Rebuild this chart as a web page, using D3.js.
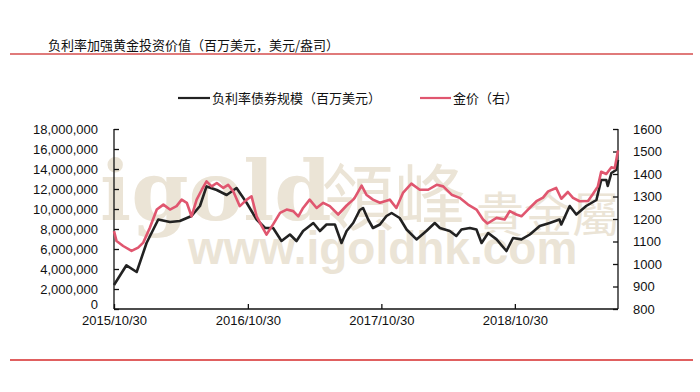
<!DOCTYPE html>
<html lang="zh">
<head>
<meta charset="UTF-8" />
<title>负利率加强黄金投资价值</title>
<script src="https://d3js.org/d3.v7.min.js"></script>
<style>
  body { margin: 0; background: #fff; font-family: "Liberation Sans", Arial, sans-serif; }
  .tick text { font-size: 13px; fill: #111; font-family: "Liberation Sans", Arial, sans-serif; }
  .cn { font-family: "Noto Sans CJK SC", "Noto Sans", sans-serif; fill: #111; }
</style>
</head>
<body>
<svg width="700" height="392"></svg>
<script>
// 负利率债券规模（百万美元）
const bondDates = ["2015-10-30","2015-12-03","2015-12-31","2016-01-27","2016-02-28","2016-03-31","2016-04-27","2016-05-29",
  "2016-06-21","2016-07-09","2016-08-06","2016-09-02","2016-09-29","2016-10-27","2016-11-23","2016-12-16","2017-01-07",
  "2017-01-30","2017-02-22","2017-03-12","2017-03-30","2017-04-27","2017-05-15","2017-06-02","2017-06-25","2017-07-13",
  "2017-07-27","2017-08-14","2017-09-01","2017-09-10","2017-09-24","2017-10-07","2017-10-26","2017-11-13","2017-11-27",
  "2017-12-19","2018-01-07","2018-02-03","2018-03-02","2018-03-25","2018-04-08","2018-05-05","2018-05-23","2018-06-06",
  "2018-06-29","2018-07-17","2018-07-31","2018-08-18","2018-09-10","2018-10-07","2018-10-25","2018-11-17","2018-12-10",
  "2019-01-06","2019-02-02","2019-03-01","2019-03-06","2019-03-29","2019-04-16","2019-05-13","2019-06-10","2019-06-23",
  "2019-07-07","2019-07-11","2019-07-21","2019-08-03","2019-08-08"];
const bondSize = [2400000,4370000,3700000,6600000,8950000,8700000,8800000,9300000,
  10300000,12260000,11900000,11400000,12100000,10600000,8950000,8100000,8100000,
  6800000,7450000,6800000,7800000,8600000,7800000,8450000,8450000,6600000,
  7800000,8600000,9900000,10100000,8950000,8100000,8450000,9300000,9600000,
  9100000,7950000,6960000,7800000,8600000,8100000,7800000,7300000,7950000,
  8100000,7950000,6600000,7600000,6960000,5800000,7100000,6960000,7450000,
  8300000,8600000,8950000,8450000,10300000,9450000,10300000,10900000,12900000,
  12900000,12300000,13600000,13900000,14900000];

// 金价（右）
const goldDates = ["2015-10-30","2015-11-06","2015-11-24","2015-12-17","2016-01-04","2016-01-18","2016-02-05","2016-02-24",
  "2016-03-13","2016-03-31","2016-04-18","2016-05-02","2016-05-16","2016-05-29","2016-06-12","2016-06-26","2016-07-09",
  "2016-07-23","2016-08-06","2016-08-24","2016-09-06","2016-09-20","2016-10-08","2016-10-27","2016-11-09","2016-11-23",
  "2016-12-07","2016-12-20","2017-01-07","2017-01-26","2017-02-13","2017-03-03","2017-03-17","2017-03-30","2017-04-17",
  "2017-05-06","2017-05-24","2017-06-11","2017-07-04","2017-07-27","2017-08-14","2017-08-18","2017-09-06","2017-09-19",
  "2017-10-07","2017-10-26","2017-11-22","2017-12-10","2017-12-28","2018-01-20","2018-02-12","2018-03-07","2018-03-30",
  "2018-04-17","2018-05-10","2018-06-01","2018-06-24","2018-07-17","2018-08-04","2018-08-16","2018-09-10","2018-10-02",
  "2018-10-16","2018-11-03","2018-11-17","2018-12-05","2018-12-28","2019-01-15","2019-01-29","2019-02-20","2019-03-06",
  "2019-03-24","2019-04-07","2019-04-25","2019-05-18","2019-05-31","2019-06-14","2019-06-23","2019-07-07","2019-07-21",
  "2019-07-30","2019-08-08"];
const goldPrice = [1146,1102,1080,1058,1073,1095,1161,1242,
  1264,1242,1257,1286,1272,1212,1286,1330,1367,
  1345,1360,1338,1352,1323,1257,1286,1301,1212,
  1168,1131,1176,1227,1242,1235,1212,1249,1286,
  1249,1272,1257,1220,1260,1286,1294,1348,1308,
  1286,1272,1286,1249,1316,1357,1330,1330,1352,
  1345,1308,1294,1264,1242,1198,1180,1205,1198,
  1235,1220,1212,1242,1279,1295,1323,1338,1290,
  1320,1294,1279,1280,1310,1345,1410,1400,1430,
  1425,1505];

const dateTicks = ["2015-10-30","2016-10-30","2017-10-30","2018-10-30"];
const leftTicks = d3.range(0, 18000001, 2000000);
const rightTicks = d3.range(800, 1601, 100);

const parse = d3.timeParse("%Y-%m-%d");
const svg = d3.select("svg");
const plotL = 114, plotR = 618, plotT = 129, plotB = 309;

const x = d3.scaleTime().domain([parse("2015-10-30"), parse("2019-08-08")]).range([plotL, plotR]);
const yL = d3.scaleLinear().domain([0, 18000000]).range([plotB, plotT]);
const yR = d3.scaleLinear().domain([800, 1600]).range([plotB, plotT]);

// 标题和分隔线
svg.append("text").attr("class", "cn").attr("x", 48).attr("y", 50)
  .attr("font-size", 13).text("负利率加强黄金投资价值（百万美元，美元/盎司）");
svg.append("line").attr("x1", 10).attr("x2", 693).attr("y1", 54).attr("y2", 54)
  .attr("stroke", "#e07a7a").attr("stroke-width", 2);
svg.append("line").attr("x1", 10).attr("x2", 693).attr("y1", 360).attr("y2", 360)
  .attr("stroke", "#e06060").attr("stroke-width", 2);

// 水印
const wm = svg.append("g").attr("fill", "#ebe4d6");
wm.append("text").attr("x", 100).attr("y", 220).attr("font-size", 82).attr("font-weight", "bold")
  .attr("font-family", "'DejaVu Serif', serif").text("igold");
wm.append("text").attr("x", 322).attr("y", 224).attr("font-size", 72)
  .attr("font-family", "'Noto Sans CJK TC', sans-serif").text("領峰");
wm.append("text").attr("x", 476).attr("y", 232).attr("font-size", 48)
  .attr("font-family", "'Noto Sans CJK TC', sans-serif").text("貴金屬");
wm.append("text").attr("x", 188).attr("y", 264).attr("font-size", 46).attr("font-weight", "bold")
  .attr("font-family", "'Liberation Sans', Arial, sans-serif").text("www.igoldhk.com");

// 坐标轴
const gx = svg.append("g").attr("transform", `translate(0,${plotB})`)
  .call(d3.axisBottom(x).tickValues(dateTicks.map(parse)).tickFormat(d3.timeFormat("%Y/%m/%d"))
    .tickSize(-5).tickPadding(7));
const gl = svg.append("g").attr("transform", `translate(${plotL},0)`)
  .call(d3.axisLeft(yL).tickValues(leftTicks).tickFormat(d3.format(",")).tickSize(-5).tickPadding(16));
const gr = svg.append("g").attr("transform", `translate(${plotR},0)`)
  .call(d3.axisRight(yR).tickValues(rightTicks).tickFormat(d3.format("d")).tickSize(-5).tickPadding(15));
[gx, gl, gr].forEach(g => {
  g.selectAll(".domain, .tick line").attr("stroke", "#111").attr("stroke-width", 1.3);
  g.selectAll(".tick text").attr("fill", "#111");
});
gx.select(".domain").attr("d", `M${plotL},0H${plotR}`);
gl.select(".domain").attr("d", `M0,${plotT}V${plotB}`);
gr.select(".domain").attr("d", `M0,${plotT}V${plotB}`);
// "0" 标签略上移，避开日期标签
gl.selectAll(".tick text").filter(d => d === 0).attr("dy", "-0.05em");

// 折线
const bond = bondDates.map((d, i) => ({ date: parse(d), v: bondSize[i] }));
const gold = goldDates.map((d, i) => ({ date: parse(d), v: goldPrice[i] }));

svg.append("path").datum(bond).attr("fill", "none").attr("stroke", "#222")
  .attr("stroke-width", 2.6).attr("stroke-linejoin", "round")
  .attr("d", d3.line().x(d => x(d.date)).y(d => yL(d.v)));
svg.append("path").datum(gold).attr("fill", "none").attr("stroke", "#e0566f")
  .attr("stroke-width", 2.6).attr("stroke-linejoin", "round")
  .attr("d", d3.line().x(d => x(d.date)).y(d => yR(d.v)));

// 图例
const lg = svg.append("g");
lg.append("line").attr("x1", 178).attr("x2", 210).attr("y1", 98).attr("y2", 98)
  .attr("stroke", "#222").attr("stroke-width", 2.2);
lg.append("text").attr("class", "cn").attr("x", 212).attr("y", 103).attr("font-size", 13)
  .text("负利率债券规模（百万美元）");
lg.append("line").attr("x1", 420).attr("x2", 451).attr("y1", 98).attr("y2", 98)
  .attr("stroke", "#e0566f").attr("stroke-width", 2.2);
lg.append("text").attr("class", "cn").attr("x", 453).attr("y", 103).attr("font-size", 13)
  .text("金价（右）");
</script>
</body>
</html>
